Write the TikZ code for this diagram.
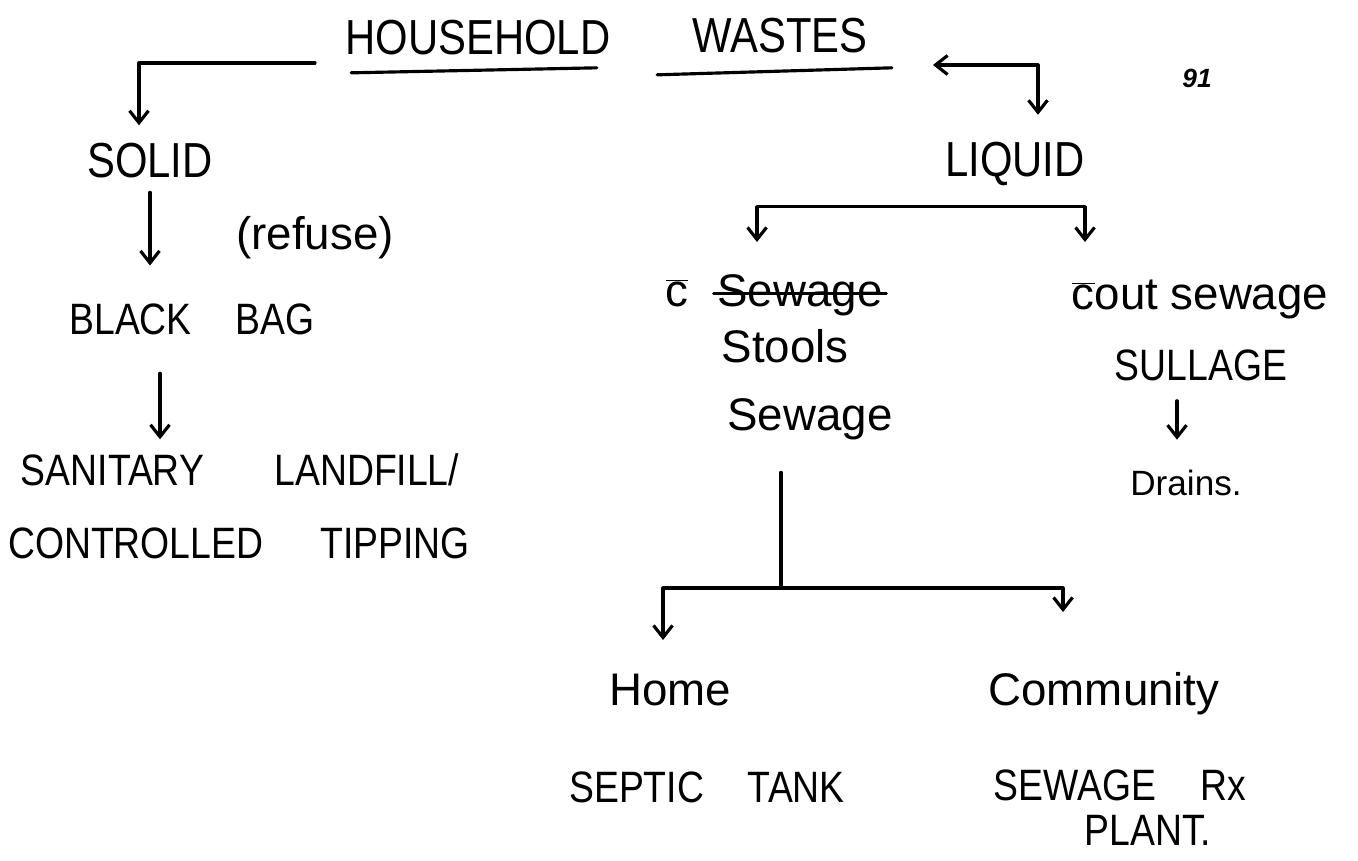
\documentclass[tikz,border=0pt]{standalone}
\usepackage{fontspec}
\setmainfont{Liberation Sans}
\newfontfamily\capsfont{Liberation Sans}[FakeStretch=0.85]
\usepackage{tikz}
\usetikzlibrary{arrows.meta,positioning}

\newcommand{\cbar}{$\overline{\mbox{c}}$}

\begin{document}
\begin{tikzpicture}[x=0.02cm,y=-0.02cm,
  >={Straight Barb[length=2.4mm,width=3.8mm]},
  ink/.style={line width=1.8pt,line cap=round,line join=round},
  arr/.style={ink,->},
  head/.style={font=\capsfont\fontsize{28}{32}\selectfont,anchor=base,inner sep=0pt},
  caps/.style={font=\capsfont\fontsize{25}{30}\selectfont,anchor=base,inner sep=2pt},
  hand/.style={font=\fontsize{26}{30}\selectfont,anchor=base,inner sep=2pt}
]
\path[use as bounding box,fill=white] (0,0) rectangle (1358,861);

% title
\node[head] (hh) at (478,55) {HOUSEHOLD};
\node[head] (ws) at (780,53) {WASTES};
\node[font=\fontsize{15}{18}\selectfont\bfseries\itshape,anchor=base] (pg) at (1197,88) {91};
\draw[ink] ([xshift=0.12cm,yshift=-0.34cm]hh.south west) -- ([xshift=-0.28cm,yshift=-0.24cm]hh.south east);
\draw[ink] ([xshift=-0.7cm,yshift=-0.42cm]ws.south west) -- ([xshift=0.48cm,yshift=-0.28cm]ws.south east);

% solid side
\node[head,inner sep=2pt] (solid) at (150,178) {SOLID};
\coordinate (hl) at (315,63);
\draw[arr,shorten >=0.29cm] (hl) -| ([xshift=-0.22cm]solid.north);
\node[hand] (refuse) at (315,250) {(refuse)};
\node[caps] (bag) at (192,335) {BLACK\quad BAG};
\draw[arr,shorten <=0.2cm,shorten >=0.7cm] (solid.south) -- (solid.south |- bag.north);
\node[caps] (landfill) at (240,485) {SANITARY\hspace{1.6em}LANDFILL/};
\node[caps] (tipping) at (239,558) {CONTROLLED\hspace{1.3em}TIPPING};
\draw[arr,shorten <=0.68cm,shorten >=0.2cm] ([xshift=-0.64cm]bag.south) -- ([xshift=-0.64cm]bag.south |- landfill.north);

% liquid side
\node[head,inner sep=2pt] (liquid) at (1015,177) {LIQUID};
\coordinate (hr) at (933,65);
\draw[ink,<->,shorten >=0.48cm] (hr) -| ([xshift=0.46cm]liquid.north);
\coordinate (lt) at (757,242);
\coordinate (rt) at (1085,242);
\draw[arr] ([yshift=-0.33cm]liquid.south) -| (lt);
\draw[arr] ([yshift=-0.33cm]liquid.south) -| (rt);

\node[hand] (withc) at (677,307) {\cbar};
\node[hand] (struck) at (800,307) {Sewage};
\draw[ink] ([yshift=0.27cm]struck.base west) -- ([yshift=0.27cm]struck.base east);
\node[hand] (stools) at (785,362) {Stools};
\node[hand] (sewage) at (810,430) {Sewage};
\node[hand] (wos) at (1200,310) {\cbar out sewage};
\node[caps] (sullage) at (1201,380) {SULLAGE};
\node[hand,font=\fontsize{20}{24}\selectfont] (drains) at (1186,495) {Drains.};
\draw[arr,shorten <=0.33cm,shorten >=0.52cm] ([xshift=-0.48cm]sullage.south) -- ([xshift=-0.48cm]sullage.south |- drains.north);

% sewage split
\coordinate (sj) at (781,588);
\coordinate (hm) at (663,640);
\coordinate (cm) at (1063,612);
\draw[ink,shorten <=0.58cm] (sewage.south -| sj) -- (sj);
\draw[arr] (sj) -| (hm);
\draw[arr] (sj) -| (cm);

\node[hand] (home) at (670,705) {Home};
\node[hand] (community) at (1104,705) {Community};
\node[caps] (septic) at (707,802) {SEPTIC\quad TANK};
\node[caps] (sewplant) at (1120,800) {SEWAGE\quad Rx};
\node[caps] (plant) at (1148,845) {PLANT.};
\end{tikzpicture}
\end{document}
